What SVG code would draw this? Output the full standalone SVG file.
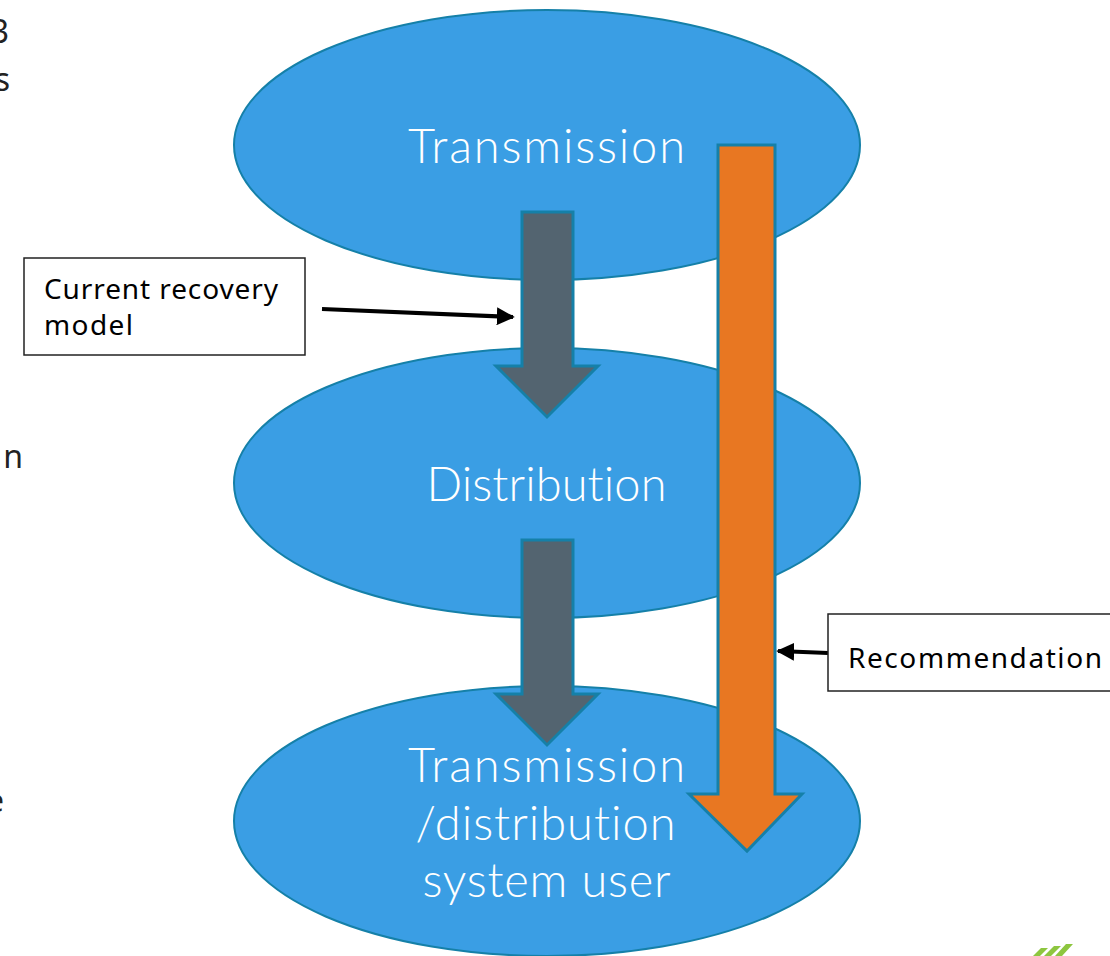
<svg xmlns="http://www.w3.org/2000/svg" width="1110" height="956" viewBox="0 0 1110 956">
<style>
.ell{fill:#3a9ee4;stroke:#1580a8;stroke-width:2}
.big{font-family:Lato,"Noto Sans",sans-serif;font-weight:300;font-size:47px;fill:#ffffff;text-anchor:middle;letter-spacing:1px}
.lbl{font-family:"Noto Sans",Lato,sans-serif;font-size:28px;fill:#000000}
.box{fill:#ffffff;stroke:#222222;stroke-width:1.5}
.gray{fill:#536470;stroke:#1580a8;stroke-width:3}
.orange{fill:#e87722;stroke:#1580a8;stroke-width:3}
.side{font-family:"Noto Sans",sans-serif;font-size:32px;fill:#222222;text-anchor:end}
</style>
<defs>
<marker id="ah2" viewBox="0 0 10 10" refX="9" refY="5" markerWidth="18" markerHeight="18" orient="auto" markerUnits="userSpaceOnUse">
<path d="M0,0 L10,5 L0,10 Z" fill="#000"/>
</marker>
</defs>
<rect width="1110" height="956" fill="#ffffff"/>
<text class="side" x="9" y="43">3</text>
<text class="side" x="10" y="91">s</text>
<text class="side" x="23" y="468">n</text>
<text class="side" x="4" y="812">e</text>
<g id="node-transmission">
<ellipse class="ell" cx="547" cy="145" rx="313" ry="135"/>
</g>
<g id="node-distribution">
<ellipse class="ell" cx="547" cy="483" rx="313" ry="135"/>
</g>
<g id="node-user">
<ellipse class="ell" cx="547" cy="821" rx="313" ry="135"/>
</g>
<g id="connectors">
<polygon class="gray" points="522,212 573,212 573,366 598,366 547,417 496,366 522,366"/>
<polygon class="gray" points="522,540 573,540 573,694 598,694 547,745 496,694 522,694"/>
<polygon class="orange" points="718,145 775,145 775,794 802,794 747,851 689,794 718,794"/>
<line x1="322" y1="309" x2="513" y2="317" stroke="#000" stroke-width="4" marker-end="url(#ah2)"/>
<line x1="828" y1="653" x2="778" y2="651" stroke="#000" stroke-width="4" marker-end="url(#ah2)"/>
</g>
<g id="label-transmission"><text class="big" x="547" y="163" textLength="278" lengthAdjust="spacing">Transmission</text></g>
<g id="label-distribution"><text class="big" x="547" y="501" textLength="241" lengthAdjust="spacing">Distribution</text></g>
<g id="label-user">
<text class="big" x="547" y="782" textLength="278" lengthAdjust="spacing">Transmission</text>
<text class="big" x="546" y="840" textLength="261" lengthAdjust="spacing">/distribution</text>
<text class="big" x="547" y="897" textLength="249" lengthAdjust="spacing">system user</text>
</g>
<g id="node-current">
<rect class="box" x="24" y="258" width="281" height="97"/>
<text class="lbl" x="44" y="299" textLength="234" lengthAdjust="spacing">Current recovery</text>
<text class="lbl" x="44" y="335" textLength="89" lengthAdjust="spacing">model</text>
</g>
<g id="node-recommendation">
<rect class="box" x="828" y="614" width="290" height="77"/>
<text class="lbl" x="848" y="668" textLength="254" lengthAdjust="spacing">Recommendation</text>
</g>
<g id="logo" fill="#8dc63f">
<polygon points="1041,948 1048,948 1040,956 1033,956"/>
<polygon points="1054,946 1061,946 1051,956 1044,956"/>
<polygon points="1066,944 1073,944 1062,956 1055,956"/>
</g>
</svg>
